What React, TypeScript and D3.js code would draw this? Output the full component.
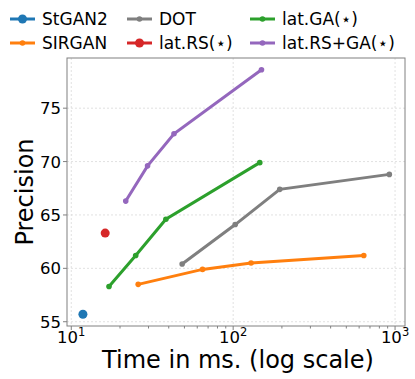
import * as d3 from "d3";

const W = 415;
const H = 379;
const M = { left: 67, right: 405, top: 58, bottom: 326 };

// series values (time in ms, precision)
const stgan2Time = [11.8];
const stgan2Prec = [55.7];
const sirganTime = [25.9, 64.7, 129, 641];
const sirganPrec = [58.5, 59.9, 60.5, 61.2];
const dotTime = [48.4, 103, 194, 922];
const dotPrec = [60.4, 64.1, 67.4, 68.8];
const latRSTime = [16.2];
const latRSPrec = [63.3];
const latGATime = [17.1, 25.0, 38.4, 146];
const latGAPrec = [58.3, 61.2, 64.6, 69.9];
const latRSGATime = [21.7, 29.6, 43.1, 149.6];
const latRSGAPrec = [66.3, 69.6, 72.6, 78.6];

const yTicks = [55, 60, 65, 70, 75];
const xTicks = [10, 100, 1000];

const series = [
  { name: "StGAN2", color: "#1f77b4", xs: stgan2Time, ys: stgan2Prec },
  { name: "SIRGAN", color: "#ff7f0e", xs: sirganTime, ys: sirganPrec },
  { name: "DOT", color: "#7f7f7f", xs: dotTime, ys: dotPrec },
  { name: "lat.RS(\u22c6)", color: "#d62728", xs: latRSTime, ys: latRSPrec },
  { name: "lat.GA(\u22c6)", color: "#2ca02c", xs: latGATime, ys: latGAPrec },
  { name: "lat.RS+GA(\u22c6)", color: "#9467bd", xs: latRSGATime, ys: latRSGAPrec },
];

const font = "DejaVu Sans, sans-serif";

export default function App() {
  const x = d3.scaleLog().domain([9.41, 1152]).range([M.left, M.right]);
  const y = d3.scaleLinear().domain([54.6, 79.7]).range([M.bottom, M.top]);
  const line = d3
    .line<[number, number]>()
    .x((d) => x(d[0]))
    .y((d) => y(d[1]));

  const minor: number[] = [];
  [10, 100].forEach((b) => {
    for (let k = 2; k <= 9; k++) minor.push(b * k);
  });

  // legend layout: 3 columns x 2 rows, column-major like matplotlib
  const legCols = [10, 127, 250];
  const legRows = [19, 43];

  return (
    <svg
      width={W}
      height={H}
      style={{ position: "absolute", left: 0, top: 0, background: "#fff" }}
      fontFamily={font}
    >
      {/* grid */}
      <g stroke="#d9d9d9" strokeWidth={0.8} strokeDasharray="2,2">
        {yTicks.map((t) => (
          <line key={"gy" + t} x1={M.left} x2={M.right} y1={y(t)} y2={y(t)} />
        ))}
        {xTicks.map((t) => (
          <line key={"gx" + t} x1={x(t)} x2={x(t)} y1={M.top} y2={M.bottom} />
        ))}
      </g>

      {/* series */}
      {series.map((s) => {
        const pts = s.xs.map((v, i) => [v, s.ys[i]] as [number, number]);
        const single = pts.length === 1;
        return (
          <g key={s.name}>
            {!single && (
              <path d={line(pts) || ""} fill="none" stroke={s.color} strokeWidth={3} />
            )}
            {pts.map((p, i) => (
              <circle key={i} cx={x(p[0])} cy={y(p[1])} r={single ? 4.5 : 2.8} fill={s.color} />
            ))}
          </g>
        );
      })}

      {/* frame */}
      <rect
        x={M.left}
        y={M.top}
        width={M.right - M.left}
        height={M.bottom - M.top}
        fill="none"
        stroke="#808080"
        strokeWidth={1}
      />

      {/* y axis */}
      {yTicks.map((t) => (
        <g key={"yt" + t}>
          <line x1={M.left - 4} x2={M.left} y1={y(t)} y2={y(t)} stroke="#808080" />
          <text x={M.left - 6} y={y(t)} dy="0.36em" textAnchor="end" fontSize={16.5} fill="#000">
            {t}
          </text>
        </g>
      ))}

      {/* x axis */}
      {minor.map((t) => (
        <line key={"mn" + t} x1={x(t)} x2={x(t)} y1={M.bottom} y2={M.bottom + 2.5} stroke="#808080" />
      ))}
      {xTicks.map((t) => (
        <g key={"xt" + t}>
          <line x1={x(t)} x2={x(t)} y1={M.bottom} y2={M.bottom + 4} stroke="#808080" />
          <text x={x(t)} y={M.bottom + 17} textAnchor="middle" fontSize={16.5} fill="#000">
            10
            <tspan fontSize={11.5} dy={-7}>
              {Math.round(Math.log10(t))}
            </tspan>
          </text>
        </g>
      ))}

      {/* axis titles */}
      <text x={(M.left + M.right) / 2 + 2} y={368} textAnchor="middle" fontSize={24} fill="#000">
        Time in ms. (log scale)
      </text>
      <text
        transform={`translate(33,${(M.top + M.bottom) / 2}) rotate(-90)`}
        textAnchor="middle"
        fontSize={24}
        fill="#000"
      >
        Precision
      </text>

      {/* legend */}
      {series.map((s, i) => {
        const cx = legCols[Math.floor(i / 2)];
        const cy = legRows[i % 2];
        return (
          <g key={"lg" + s.name}>
            <line x1={cx} x2={cx + 25} y1={cy} y2={cy} stroke={s.color} strokeWidth={3} />
            <circle cx={cx + 12.5} cy={cy} r={s.xs.length === 1 ? 4.5 : 2.8} fill={s.color} />
            <text x={cx + 32} y={cy} dy="0.36em" fontSize={17} fill="#000">
              {s.name}
            </text>
          </g>
        );
      })}
    </svg>
  );
}
